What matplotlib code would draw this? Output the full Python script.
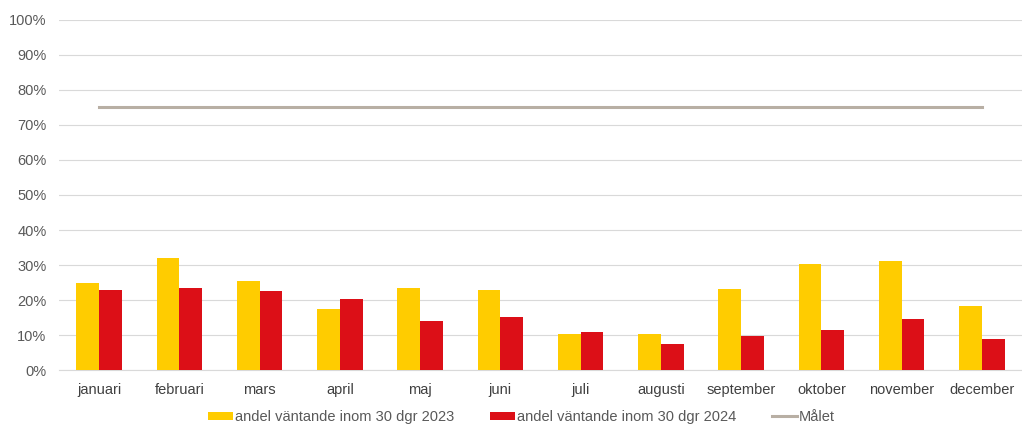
"""Andel väntande inom 30 dgr, 2023 mot 2024, med målet som linje"""
import numpy as np
import matplotlib
matplotlib.use('Agg')
import matplotlib.pyplot as plt
from matplotlib.ticker import PercentFormatter

plt.rcParams['font.family'] = ['Liberation Sans', 'DejaVu Sans']

months = ['januari', 'februari', 'mars', 'april', 'maj', 'juni', 'juli',
          'augusti', 'september', 'oktober', 'november', 'december']
share_2023 = [25.0, 32.0, 25.4, 17.4, 23.4, 23.0, 10.3, 10.3, 23.2, 30.3, 31.1, 18.2]
share_2024 = [22.8, 23.6, 22.6, 20.2, 14.0, 15.2, 10.9, 7.5, 9.7, 11.5, 14.6, 9.0]
target = [75] * len(months)

label_2023 = 'andel väntande inom 30 dgr 2023'
label_2024 = 'andel väntande inom 30 dgr 2024'
label_target = 'Målet'

grey_text = '#595959'

fig = plt.figure(figsize=(10.22, 4.26), dpi=100)
ax = fig.add_axes([59 / 1022, (426 - 370.3) / 426, (1022 - 59) / 1022, 350.6 / 426])

x = np.arange(len(months))
w = 0.285
b1 = ax.bar(x - w / 2, share_2023, w, color='#FFCC00', label=label_2023, zorder=3)
b2 = ax.bar(x + w / 2, share_2024, w, color='#DC0F17', label=label_2024, zorder=3)
ln, = ax.plot(x, target, color='#B8AFA4', linewidth=2.2, label=label_target, zorder=4)

ax.set_xlim(-0.5, len(months) - 0.5)
ax.set_ylim(0, 100)
ax.set_yticks(np.arange(0, 101, 10))
ax.yaxis.set_major_formatter(PercentFormatter(decimals=0))
ax.set_xticks(x)
ax.set_xticklabels(months)
ax.grid(axis='y', color='#D9D9D9', linewidth=0.8, zorder=0)
for s in ['top', 'right', 'left']:
    ax.spines[s].set_visible(False)
ax.spines['bottom'].set_color('#D9D9D9')
ax.tick_params(axis='y', length=0, pad=9, labelsize=10.5, labelcolor=grey_text)
ax.tick_params(axis='x', length=0, pad=9, labelsize=10.5, labelcolor='#404040')

fig.legend([b1, b2, ln], [label_2023, label_2024, label_target],
           loc='center', bbox_to_anchor=(521.5 / 1022, 1 - 417 / 426), ncol=3,
           frameon=False, labelcolor=grey_text, handlelength=1.71,
           handletextpad=0.14, columnspacing=2.47, handleheight=0.5,
           fontsize=10.5, borderpad=0.2)

fig.savefig('out.png', dpi=100)
